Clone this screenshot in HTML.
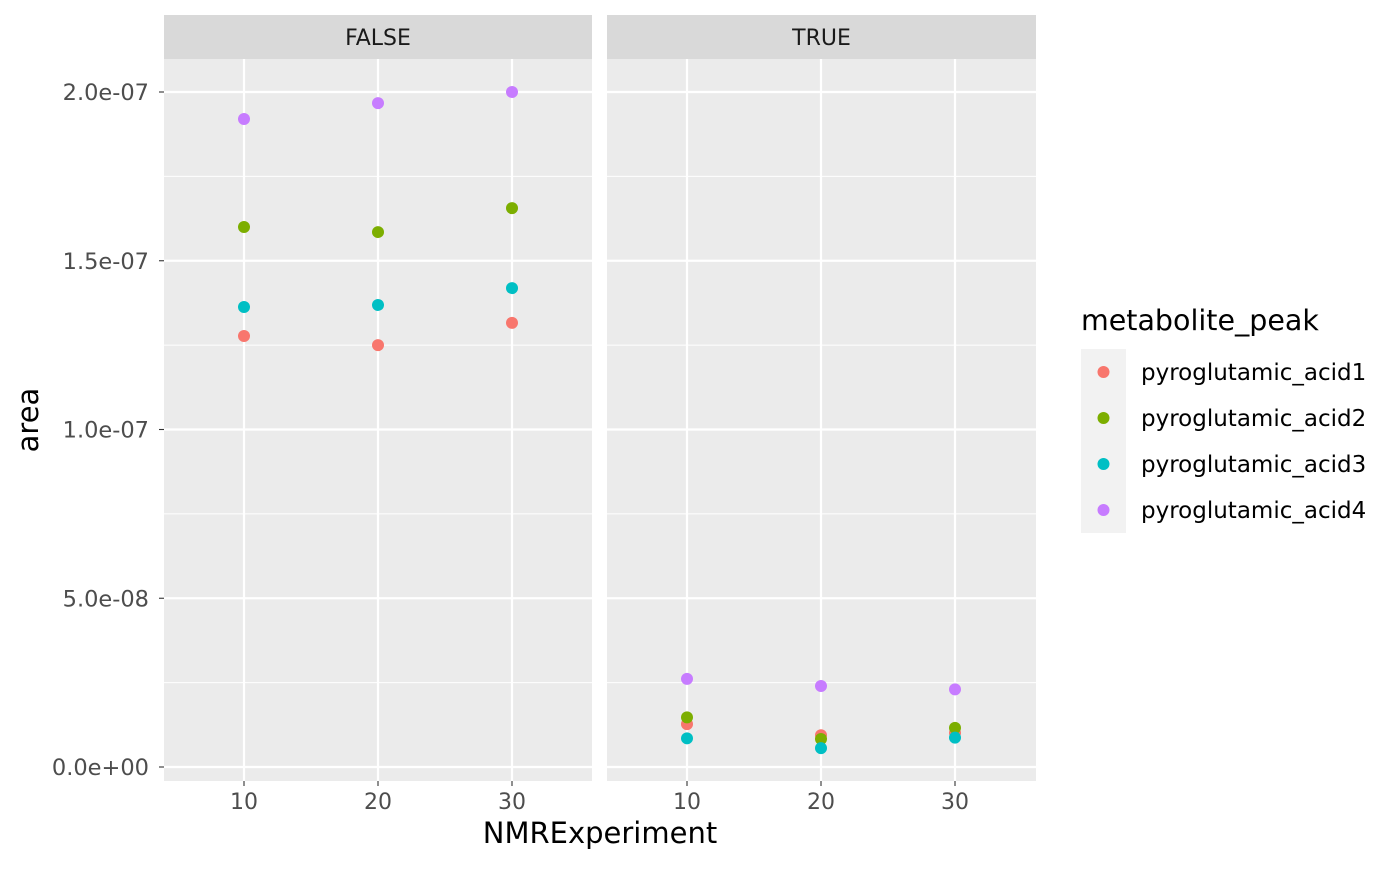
<!DOCTYPE html>
<html><head><meta charset="utf-8"><style>
body{margin:0;background:#fff;font-family:"DejaVu Sans","Liberation Sans",sans-serif}
</style></head><body>
<svg id="chart" width="1400" height="865" xmlns="http://www.w3.org/2000/svg" font-family="'DejaVu Sans','Liberation Sans',sans-serif"></svg>
<script>
const facets=["FALSE","TRUE"];
const xCats=[10,20,30];
const series=["pyroglutamic_acid1","pyroglutamic_acid2","pyroglutamic_acid3","pyroglutamic_acid4"];
const colors=["#F8766D","#7CAE00","#00BFC4","#C77CFF"];
const falseAcid1=[1.277e-7,1.25e-7,1.316e-7];
const falseAcid2=[1.6e-7,1.585e-7,1.656e-7];
const falseAcid3=[1.363e-7,1.369e-7,1.419e-7];
const falseAcid4=[1.92e-7,1.967e-7,2.0e-7];
const trueAcid1=[1.27e-8,0.94e-8,1.01e-8];
const trueAcid2=[1.47e-8,0.83e-8,1.16e-8];
const trueAcid3=[0.85e-8,0.56e-8,0.87e-8];
const trueAcid4=[2.61e-8,2.40e-8,2.30e-8];
const yTicks=[0,5e-8,1e-7,1.5e-7,2e-7];
const yTickLabels=["0.0e+00","5.0e-08","1.0e-07","1.5e-07","2.0e-07"];
const data={FALSE:[falseAcid1,falseAcid2,falseAcid3,falseAcid4],TRUE:[trueAcid1,trueAcid2,trueAcid3,trueAcid4]};

const svg=document.getElementById('chart');
const NS="http://www.w3.org/2000/svg";
function mk(t,a,p){const e=document.createElementNS(NS,t);for(const k in a)e.setAttribute(k,a[k]);(p||svg).appendChild(e);return e;}
const panelTop=59,panelBot=781;
const panels=[{x0:164,x1:592},{x0:607,x1:1036}];
function y(v){return 767-v*337.5e7;}
function x(p,c){return panels[p].x0+80+(c-10)*13.4;}

panels.forEach((pn,pi)=>{
  const g=mk('g',{});
  
  
  mk('rect',{x:pn.x0,y:panelTop,width:pn.x1-pn.x0,height:panelBot-panelTop,fill:'#EBEBEB'},g);
  for(let i=0;i<yTicks.length-1;i++){const m=(yTicks[i]+yTicks[i+1])/2;mk('line',{x1:pn.x0,x2:pn.x1,y1:y(m),y2:y(m),stroke:'#fff','stroke-width':1.1},g);}
  yTicks.forEach(t=>mk('line',{x1:pn.x0,x2:pn.x1,y1:y(t),y2:y(t),stroke:'#fff','stroke-width':2.2},g));
  xCats.forEach(c=>mk('line',{x1:x(pi,c),x2:x(pi,c),y1:panelTop,y2:panelBot,stroke:'#fff','stroke-width':2.2},g));
  const s=mk('rect',{x:pn.x0,y:15,width:pn.x1-pn.x0,height:44,fill:'#D9D9D9'});
  
  
  const st=mk('text',{x:(pn.x0+pn.x1)/2,y:45,'text-anchor':'middle','font-size':22,fill:'#1A1A1A'});
  st.textContent=facets[pi];
  
  
  xCats.forEach(c=>{
    mk('line',{x1:x(pi,c),x2:x(pi,c),y1:panelBot,y2:panelBot+5,stroke:'#333','stroke-width':1.1});
    const t=mk('text',{x:x(pi,c),y:809,'text-anchor':'middle','font-size':22,fill:'#4D4D4D'});
    t.textContent=c;
    
    
  });
  data[facets[pi]].forEach((arr,si)=>{
    arr.forEach((v,ci)=>{
      const c=mk('circle',{cx:x(pi,xCats[ci]),cy:y(v),r:6,fill:colors[si]});
      
      
    });
  });
});
yTicks.forEach((t,i)=>{
  mk('line',{x1:159,x2:164,y1:y(t),y2:y(t),stroke:'#333','stroke-width':1.1});
  const l=mk('text',{x:149,y:y(t)+8,'text-anchor':'end','font-size':22.5,fill:'#4D4D4D'});
  l.textContent=yTickLabels[i];
  
  
});
const xt=mk('text',{x:600,y:843,'text-anchor':'middle','font-size':29,fill:'#000'});
xt.textContent='NMRExperiment';


const yt=mk('text',{x:38,y:420,'text-anchor':'middle','font-size':29,fill:'#000',transform:'rotate(-90 38 420)'});
yt.textContent='area';


const lg=mk('g',{});


const lt=mk('text',{x:1081,y:330,'font-size':28.5,fill:'#000'},lg);
lt.textContent='metabolite_peak';


mk('rect',{x:1081,y:349,width:45,height:184,fill:'#F2F2F2'},lg);
series.forEach((s,i)=>{
  const cy=372+i*46;
  const e=mk('g',{},lg);
  
  
  mk('circle',{cx:1103.5,cy:cy,r:6,fill:colors[i]},e);
  const t=mk('text',{x:1141,y:cy+8,'font-size':23,fill:'#000'},e);
  t.textContent=s;
});
</script>
</body></html>
